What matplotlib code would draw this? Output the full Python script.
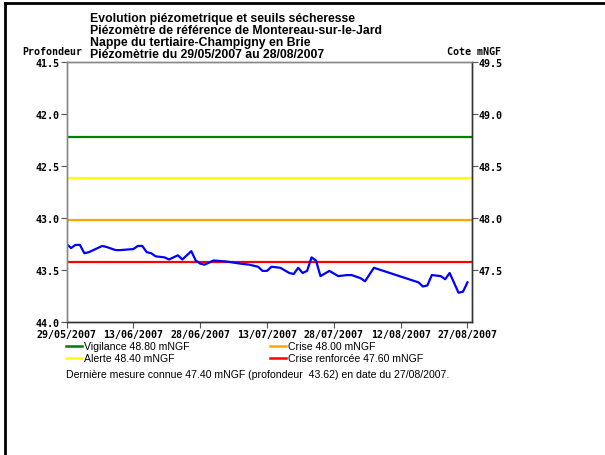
import pandas as pd
import matplotlib
matplotlib.use("Agg")
import matplotlib.pyplot as plt
from matplotlib.lines import Line2D
from matplotlib.font_manager import FontProperties

# measured depth (m) by date
dates = ["2007-05-29", "2007-05-30", "2007-05-31", "2007-06-01", "2007-06-02", "2007-06-03",
         "2007-06-04", "2007-06-05", "2007-06-06", "2007-06-07", "2007-06-09", "2007-06-10",
         "2007-06-13", "2007-06-14", "2007-06-15", "2007-06-16", "2007-06-17", "2007-06-18",
         "2007-06-20", "2007-06-21", "2007-06-22", "2007-06-23", "2007-06-24", "2007-06-26",
         "2007-06-27", "2007-06-28", "2007-06-29", "2007-07-01", "2007-07-04", "2007-07-07",
         "2007-07-09", "2007-07-11", "2007-07-12", "2007-07-13", "2007-07-14", "2007-07-16",
         "2007-07-18", "2007-07-19", "2007-07-20", "2007-07-21", "2007-07-22", "2007-07-23",
         "2007-07-24", "2007-07-25", "2007-07-27", "2007-07-29", "2007-07-31", "2007-08-01",
         "2007-08-03", "2007-08-04", "2007-08-06", "2007-08-16", "2007-08-17", "2007-08-18",
         "2007-08-19", "2007-08-21", "2007-08-22", "2007-08-23", "2007-08-25", "2007-08-26",
         "2007-08-27"]
depth = [43.25, 43.29, 43.26, 43.26, 43.34, 43.33, 43.31, 43.29, 43.27, 43.28, 43.31, 43.31,
         43.30, 43.27, 43.27, 43.33, 43.34, 43.37, 43.38, 43.40, 43.38, 43.36, 43.40, 43.32,
         43.41, 43.44, 43.45, 43.41, 43.42, 43.44, 43.45, 43.47, 43.51, 43.51, 43.47, 43.48,
         43.53, 43.54, 43.48, 43.53, 43.51, 43.38, 43.41, 43.56, 43.51, 43.56, 43.55, 43.55,
         43.58, 43.61, 43.48, 43.62, 43.66, 43.65, 43.55, 43.56, 43.59, 43.53, 43.72, 43.71,
         43.62]

# thresholds in mNGF, ground reference so that depth = ref - cote
ref = 91.02
threshold_names = ["Vigilance", "Crise", "Alerte", "Crise renforcée"]
threshold_values = [48.80, 48.00, 48.40, 47.60]
threshold_colors = ["#008000", "#ffa500", "#ffff00", "#ff0000"]

tick_dates = ["2007-05-29", "2007-06-13", "2007-06-28", "2007-07-13",
              "2007-07-28", "2007-08-12", "2007-08-27"]
start, end = "2007-05-29", "2007-08-28"

df = pd.DataFrame({"date": pd.to_datetime(dates), "depth": depth})

fig = plt.figure(figsize=(6.05, 4.56), dpi=100)
ax = fig.add_axes([0.110, 0.292, 0.670, 0.570])

for v, c in zip(threshold_values, threshold_colors):
    ax.axhline(ref - v, color=c, lw=1.6)
ax.plot(df["date"], df["depth"], color="#0000ff", lw=1.6)

ax.set_xlim(pd.Timestamp(start), pd.Timestamp(end))
ax.set_ylim(44.0, 41.5)
yt = [41.5, 42.0, 42.5, 43.0, 43.5, 44.0]
ax.set_yticks(yt)
ax.set_yticklabels([f"{t:.1f}" for t in yt])
td = pd.to_datetime(tick_dates)
ax.set_xticks(td)
ax.set_xticklabels([d.strftime("%d/%m/%Y") for d in td])

mono = dict(family="DejaVu Sans Mono", weight="bold", size=7.2)
for lab in ax.get_xticklabels() + ax.get_yticklabels():
    lab.set_fontproperties(FontProperties(**mono))
ax.tick_params(axis="both", direction="out", length=4, width=0.8, color="#555555", pad=1)

ax2 = ax.twinx()
ax2.set_ylim(ref - 0.02 - 44.0, ref - 0.02 - 41.5)
rt = [47.5, 48.0, 48.5, 49.0, 49.5]
ax2.set_yticks(rt)
ax2.set_yticklabels([f"{t:.1f}" for t in rt])
for lab in ax2.get_yticklabels():
    lab.set_fontproperties(FontProperties(**mono))
ax2.tick_params(axis="y", direction="out", length=4, width=0.8, color="#555555", pad=1)

for a in (ax, ax2):
    a.spines["left"].set_color("#888888")
    a.spines["top"].set_color("#888888")
    a.spines["right"].set_color("#333333")
    a.spines["bottom"].set_color("#333333")
    for s in a.spines.values():
        s.set_linewidth(1.0)

title = ["Evolution piézometrique et seuils sécheresse",
         "Piézomètre de référence de Montereau-sur-le-Jard",
         "Nappe du tertiaire-Champigny en Brie",
         "Piézomètrie du 29/05/2007 au 28/08/2007"]
for i, line in enumerate(title):
    fig.text(90 / 605, 1 - (22 + 12 * i) / 456, line, family="Liberation Sans",
             weight="bold", size=8.8, va="baseline", ha="left")
fig.text(22 / 605, 1 - 55 / 456, "Profondeur", **mono, va="baseline")
fig.text(447 / 605, 1 - 55 / 456, "Cote mNGF", **mono, va="baseline")

# legend, two columns
pos = [(66, 347), (270, 347), (66, 359), (270, 359)]
for k, (px, py) in enumerate(pos):
    fig.add_artist(Line2D([px / 605, (px + 16) / 605], [1 - py / 456, 1 - py / 456],
                          color=threshold_colors[k], lw=1.8))
    fig.text((px + 18) / 605, 1 - py / 456,
             f"{threshold_names[k]} {threshold_values[k]:.2f} mNGF",
             family="Liberation Sans", size=7.6, va="center")

last = df.iloc[-1]
fig.text(66 / 605, 1 - 375 / 456,
         f"Dernière mesure connue {ref - last['depth']:.2f} mNGF (profondeur  {last['depth']:.2f}) "
         f"en date du {last['date'].strftime('%d/%m/%Y')}.",
         family="Liberation Sans", size=7.6, va="center")

# frame lines on left and top of the image
fig.add_artist(Line2D([5 / 605, 5 / 605], [0, 1 - 4 / 456], color="black", lw=2))
fig.add_artist(Line2D([5 / 605, 1], [1 - 4 / 456, 1 - 4 / 456], color="black", lw=2))

fig.savefig("out.png", dpi=100)
